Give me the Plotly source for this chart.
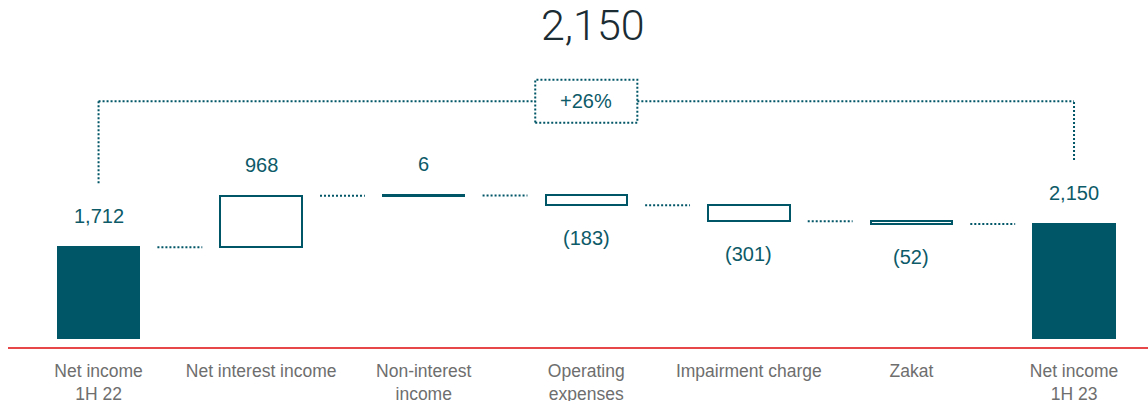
import plotly.graph_objects as go

# ---- data -------------------------------------------------------------
categories = [
    "Net income<br>1H 22",
    "Net interest income",
    "Non-interest<br>income",
    "Operating<br>expenses",
    "Impairment charge",
    "Zakat",
    "Net income<br>1H 23",
]
values = [1712, 968, 6, -183, -301, -52, 2150]
measures = ["total", "relative", "relative", "relative", "relative", "relative", "total"]

# ---- styling ----------------------------------------------------------
TEAL = "#005566"
LABEL_TEAL = "#0d5a68"
GREY = "#6e6e6e"
RED = "#e8474a"
FONT = "Liberation Sans, Arial, sans-serif"
BAR_W = 0.5
UNITS_PER_PX = 18.8          # y data units per pixel (plot is 347 px tall)

# ---- waterfall geometry -------------------------------------------------
xs = list(range(len(values)))
bases, heights, running = [], [], 0
for v, m in zip(values, measures):
    if m == "total":
        bases.append(0)
        heights.append(v)
        running = v
    else:
        bases.append(running)
        heights.append(v)
        running += v
ends = [b + h for b, h in zip(bases, heights)]


def fmt(v):
    s = f"{abs(v):,}"
    return f"({s})" if v < 0 else s


fig = go.Figure()

fill = [TEAL if m == "total" else "white" for m in measures]
fig.add_trace(go.Bar(
    x=xs, y=heights, base=bases, width=BAR_W,
    marker=dict(color=fill, line=dict(color=TEAL, width=2)),
    hoverinfo="skip", showlegend=False,
))

# short dotted connectors centred in the gap between neighbouring bars
for i in range(len(values) - 1):
    lvl = ends[i]
    fig.add_trace(go.Scatter(
        x=[i + 0.5 - 0.138, i + 0.5 + 0.138], y=[lvl, lvl], mode="lines",
        line=dict(color=TEAL, width=2, dash="2px,2px"),
        hoverinfo="skip", showlegend=False,
    ))

# value labels: above the bar for totals/increases, below for decreases
for i, (v, m) in enumerate(zip(values, measures)):
    top = max(bases[i], ends[i])
    bot = min(bases[i], ends[i])
    if v >= 0:
        y, shift = top, 31
    else:
        y, shift = bot, -33
    fig.add_annotation(
        x=i, y=y, yshift=shift, text=fmt(v), showarrow=False,
        yanchor="middle", font=dict(family=FONT, size=20, color=LABEL_TEAL),
    )

# bracket linking the two totals with the growth rate
first, last = values[0], values[-1]
growth = f"{(last / first - 1) * 100:+.0f}%"
lift = 64 * UNITS_PER_PX
bracket_y = 4458
dot = dict(color=TEAL, width=2, dash="2px,2px")
mid = (len(values) - 1) / 2
box_half_w = 0.314
box_half_h = 21.5 * UNITS_PER_PX

fig.add_shape(type="line", x0=0, x1=0, y0=first + lift, y1=bracket_y, line=dot)
fig.add_shape(type="line", x0=xs[-1], x1=xs[-1], y0=last + lift, y1=bracket_y, line=dot)
fig.add_shape(type="line", x0=0, x1=mid - box_half_w, y0=bracket_y, y1=bracket_y, line=dot)
fig.add_shape(type="line", x0=mid + box_half_w, x1=xs[-1], y0=bracket_y, y1=bracket_y, line=dot)
fig.add_shape(type="rect", x0=mid - box_half_w, x1=mid + box_half_w,
              y0=bracket_y - box_half_h, y1=bracket_y + box_half_h,
              line=dot, fillcolor="rgba(0,0,0,0)")
fig.add_annotation(x=mid, y=bracket_y, text=growth, showarrow=False,
                   yanchor="middle", font=dict(family=FONT, size=20, color=LABEL_TEAL))

# headline figure
fig.add_annotation(xref="paper", yref="paper", x=0.513, y=1.0, yshift=-25,
                   yanchor="middle", text=fmt(last), showarrow=False,
                   font=dict(family="Roboto, Liberation Sans, sans-serif", size=43,
                             weight=300, color="#1b2c33"))

fig.update_layout(
    width=1148, height=401,
    margin=dict(l=8, r=0, t=0, b=54, autoexpand=False),
    paper_bgcolor="white", plot_bgcolor="white",
    bargap=0,
    xaxis=dict(
        range=[-0.557, 6.455], tickmode="array", tickvals=xs, ticktext=categories,
        showgrid=False, zeroline=False, showline=True, linecolor=RED, linewidth=1.5,
        ticks="", ticklabelstandoff=7, automargin=False,
        tickfont=dict(family=FONT, size=17.5, color=GREY),
    ),
    yaxis=dict(range=[-164, 6360], visible=False, showgrid=False, zeroline=False),
)

fig.write_html("out.html")
